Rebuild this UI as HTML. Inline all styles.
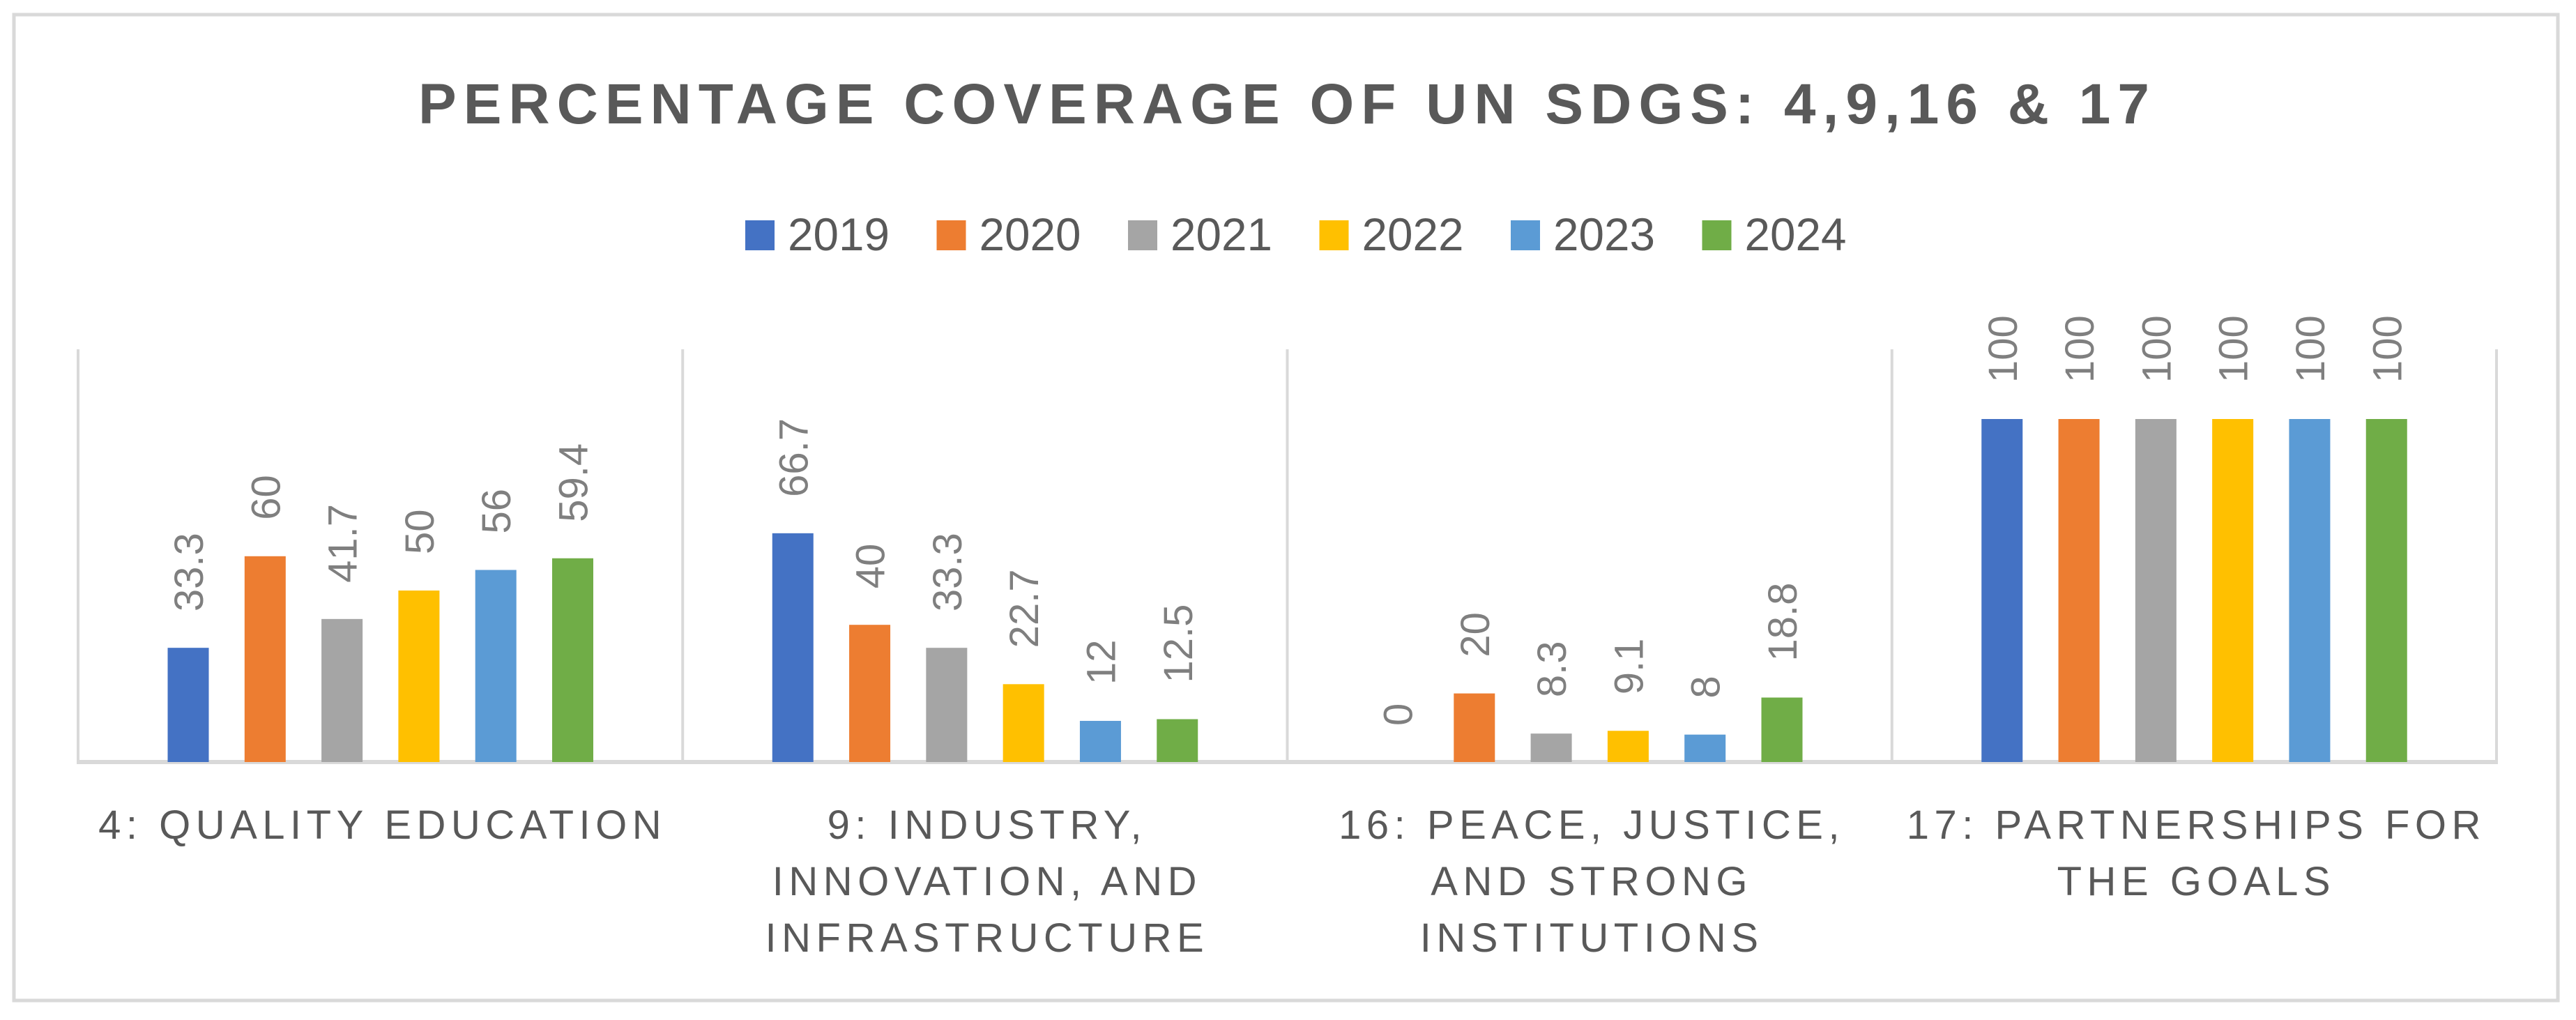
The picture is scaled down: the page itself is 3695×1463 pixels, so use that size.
<!DOCTYPE html>
<html><head><meta charset="utf-8"><style>
html,body{margin:0;padding:0;background:#fff;}
svg{display:block;font-family:"Liberation Sans",sans-serif;}
</style></head><body>
<svg id="chart" width="3695" height="1463" viewBox="0 0 3695 1463" xmlns="http://www.w3.org/2000/svg">
<rect x="20" y="21" width="3649" height="1414" fill="#fff" stroke="#d9d9d9" stroke-width="5"/>
<text x="600" y="177" font-size="82" font-weight="bold" fill="#595959" textLength="2483" lengthAdjust="spacing">PERCENTAGE COVERAGE OF UN SDGS: 4,9,16 &amp; 17</text>
<g id="legend"></g>
<g id="grid"></g>
<g id="bars"></g>
<g id="labels"></g>
<g id="cats"></g>
</svg>
<script>
const categories = [["4: QUALITY EDUCATION"],["9: INDUSTRY,","INNOVATION, AND","INFRASTRUCTURE"],["16: PEACE, JUSTICE,","AND STRONG","INSTITUTIONS"],["17: PARTNERSHIPS FOR","THE GOALS"]];
const seriesNames = ["2019","2020","2021","2022","2023","2024"];
const colors = ["#4472c4","#ed7d31","#a5a5a5","#ffc000","#5b9bd5","#70ad47"];
const s2019 = [33.3, 66.7, 0, 100];
const s2020 = [60, 40, 20, 100];
const s2021 = [41.7, 33.3, 8.3, 100];
const s2022 = [50, 22.7, 9.1, 100];
const s2023 = [56, 12, 8, 100];
const s2024 = [59.4, 12.5, 18.8, 100];
const series = [s2019,s2020,s2021,s2022,s2023,s2024];

const NS="http://www.w3.org/2000/svg";
const X0=112, X1=3581, Y0=1093, TOP=501, PXPER=4.92;
const bandW=(X1-X0)/categories.length;
function y(v){return Y0 - v*PXPER;}
function barCenter(ci,si){return X0 + ci*bandW + 158 + si*110.3;}
function mk(tag,attrs,parent){const e=document.createElementNS(NS,tag);for(const k in attrs)e.setAttribute(k,attrs[k]);parent.appendChild(e);return e;}

const legend=document.getElementById('legend');
seriesNames.forEach((n,i)=>{
  const lx=1069+i*274.5;
  const sw=mk('rect',{x:lx,y:316,width:42,height:43,fill:colors[i]},legend);
  
  
  const t=mk('text',{x:lx+61,y:359,'font-size':66,fill:'#595959',textLength:146,lengthAdjust:'spacingAndGlyphs'},legend);
  t.textContent=n;
  
  
});

const grid=document.getElementById('grid');
for(let i=0;i<=categories.length;i++){
  const x=X0+i*bandW;
  const l=mk('line',{x1:x,y1:TOP,x2:x,y2:Y0,stroke:'#d9d9d9','stroke-width':4},grid);
  
  
}
const ax=mk('line',{x1:X0-2,y1:Y0,x2:X1+2,y2:Y0,stroke:'#d9d9d9','stroke-width':6},grid);



const bars=document.getElementById('bars'), labels=document.getElementById('labels');
series.forEach((vals,si)=>{
  vals.forEach((v,ci)=>{
    const cx=barCenter(ci,si);
    const r=mk('rect',{x:cx-29.5,y:y(v),width:59,height:Y0-y(v),fill:colors[si]},bars);
    
    
    const ly=y(v)-52;
    const t=mk('text',{x:0,y:0,'font-size':58,fill:'#7f7f7f',transform:`translate(${cx+21},${ly}) rotate(-90)`},labels);
    t.textContent=String(v);
    
    
  });
});

const cats=document.getElementById('cats');
categories.forEach((lines,ci)=>{
  const cx=X0+(ci+0.5)*bandW;
  lines.forEach((ln,li)=>{
    const t=mk('text',{x:cx+3,y:1203+li*81,'font-size':58,fill:'#595959','text-anchor':'middle','letter-spacing':'7.5'},cats);
    t.textContent=ln;
    
    
  });
});
</script>
</body></html>
